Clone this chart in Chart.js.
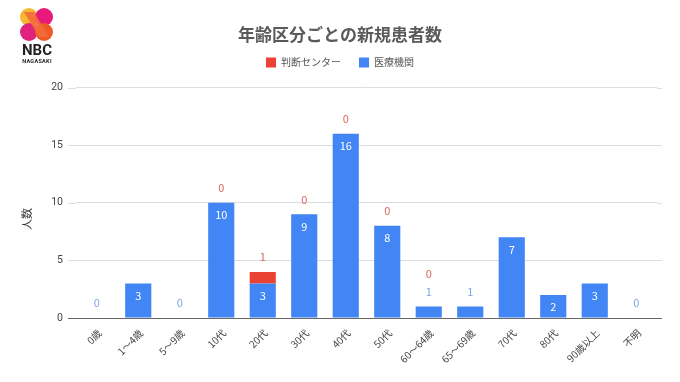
<!DOCTYPE html>
<html>
<head>
<meta charset="utf-8">
<script src="https://cdn.jsdelivr.net/npm/chart.js@4"></script>
<style>
  body { margin: 0; background: #fff; }
  #wrap { position: relative; width: 680px; height: 382px; }
  #logo { position: absolute; left: 0; top: 0; }
</style>
</head>
<body>
<div id="wrap">
  <canvas id="myBarChart" width="680" height="382"></canvas>
  <svg id="logo" width="90" height="70" viewBox="0 0 90 70">
    <circle cx="29" cy="17" r="9" fill="#f7b733"/>
    <circle cx="44" cy="17" r="9" fill="#e8197a"/>
    <circle cx="29" cy="32" r="9" fill="#e0217d"/>
    <circle cx="44" cy="32" r="9" fill="#f05a28"/>
    <path d="M24 12 L34 12 L49 37 L39 37 Z" fill="#f26b3a" opacity="0.9"/>
    <text x="37" y="55" text-anchor="middle" font-family="Roboto, Arial, sans-serif" font-weight="bold" font-size="15" fill="#222">NBC</text>
    <text x="37" y="63" text-anchor="middle" font-family="Roboto, Arial, sans-serif" font-weight="bold" font-size="5.5" fill="#222" letter-spacing="0.3">NAGASAKI</text>
  </svg>
</div>
<script>
  var categories = ['0歳', '1～4歳', '5～9歳', '10代', '20代', '30代', '40代', '50代', '60～64歳', '65～69歳', '70代', '80代', '90歳以上', '不明'];
  var centerValues = [null, null, null, 0, 1, 0, 0, 0, 0, null, null, null, null, null];
  var hospitalValues = [0, 3, 0, 10, 3, 9, 16, 8, 1, 1, 7, 2, 3, 0];
  var yTicks = [0, 5, 10, 15, 20];
  var yTitle = '人数';

  var labelFont = '11px "Noto Sans CJK JP", Roboto, sans-serif';

  // grid lines in the original run a little past the bars on both sides
  var gridExtend = {
      id: 'gridExtend',
      beforeDatasetsDraw: function (chart) {
          var ctx = chart.ctx;
          var area = chart.chartArea;
          var y = chart.scales.y;
          ctx.save();
          ctx.lineWidth = 1;
          yTicks.forEach(function (v) {
              var py = Math.round(y.getPixelForValue(v)) + 0.5;
              ctx.strokeStyle = v === 0 ? '#666' : '#dddddd';
              ctx.beginPath();
              ctx.moveTo(area.left - 8, py);
              ctx.lineTo(area.left, py);
              ctx.moveTo(area.right, py);
              ctx.lineTo(area.right + 5, py);
              ctx.stroke();
          });
          ctx.restore();
      }
  };

  // value labels + y axis title, sheets style
  var valueLabels = {
      id: 'valueLabels',
      afterDatasetsDraw: function (chart) {
          var ctx = chart.ctx;
          var redMeta = chart.getDatasetMeta(0);
          var blueMeta = chart.getDatasetMeta(1);
          ctx.save();
          ctx.font = labelFont;
          ctx.textAlign = 'center';
          ctx.textBaseline = 'middle';
          blueMeta.data.forEach(function (bar, i) {
              var v = hospitalValues[i];
              var h = bar.base - bar.y;
              var outside = h < 18;
              if (outside) {
                  ctx.fillStyle = '#7da5e6';
                  ctx.fillText(String(v), bar.x, bar.y - 15);
              } else {
                  ctx.fillStyle = '#ffffff';
                  ctx.fillText(String(v), bar.x, bar.y + 12);
              }
              var rv = centerValues[i];
              if (rv !== null) {
                  var rBar = redMeta.data[i];
                  var top = Math.min(rBar.y, bar.y);
                  ctx.fillStyle = '#d9685c';
                  ctx.fillText(String(rv), bar.x, top - 15 - (outside ? 18 : 0));
              }
          });
          // y title sits a bit below the middle
          ctx.translate(27, 219);
          ctx.rotate(-Math.PI / 2);
          ctx.fillStyle = '#333';
          ctx.fillText(yTitle, 0, 0);
          ctx.restore();
      }
  };

  var ctxBar = document.getElementById('myBarChart').getContext('2d');
  var barChart = new Chart(ctxBar, {
      type: 'bar',
      data: {
          labels: categories,
          datasets: [{
              label: '判断センター',
              data: centerValues,
              backgroundColor: '#ea4335',
              barPercentage: 0.63,
              categoryPercentage: 1.0,
              order: 1
          }, {
              label: '医療機関',
              data: hospitalValues,
              backgroundColor: '#4285f4',
              barPercentage: 0.63,
              categoryPercentage: 1.0,
              order: 0
          }]
      },
      options: {
          responsive: false,
          animation: false,
          layout: { padding: { left: 23, right: 23, top: 0, bottom: 0 } },
          plugins: {
              title: {
                  display: true,
                  text: '年齢区分ごとの新規患者数',
                  color: '#5a5a5a',
                  font: { family: '"Noto Sans CJK JP", sans-serif', size: 17, weight: 'bold' },
                  padding: { top: 24, bottom: -5 }
              },
              // empty spacer between legend and plot
              subtitle: {
                  display: true,
                  text: '',
                  weight: 500,
                  font: { size: 1 },
                  padding: { top: 0, bottom: 9 }
              },
              legend: {
                  display: true,
                  labels: {
                      boxWidth: 10,
                      boxHeight: 10,
                      padding: 18,
                      color: '#555',
                      font: { family: '"Noto Sans CJK JP", sans-serif', size: 10 },
                      sort: function (a, b) { return a.datasetIndex - b.datasetIndex; }
                  }
              },
              tooltip: { enabled: false }
          },
          scales: {
              x: {
                  stacked: true,
                  grid: { display: false, drawTicks: false },
                  border: { display: true, color: '#666', width: 1 },
                  ticks: {
                      color: '#444',
                      font: { family: '"Noto Sans CJK JP", sans-serif', size: 10 },
                      minRotation: 45,
                      maxRotation: 45,
                      padding: 9,
                      labelOffset: 3,
                      autoSkip: false
                  },
                  afterFit: function (scale) { scale.height = 64; }
              },
              y: {
                  stacked: true,
                  min: 0,
                  max: 20,
                  afterBuildTicks: function (scale) {
                      scale.ticks = yTicks.map(function (v) { return { value: v }; });
                  },
                  grid: { color: '#dddddd', drawTicks: false },
                  border: { display: false },
                  ticks: {
                      color: '#444',
                      font: { family: 'Roboto, sans-serif', size: 10.5 },
                      padding: 13
                  },
                  afterFit: function (scale) { scale.width = 53; }
              }
          }
      },
      plugins: [gridExtend, valueLabels]
  });
</script>
</body>
</html>
